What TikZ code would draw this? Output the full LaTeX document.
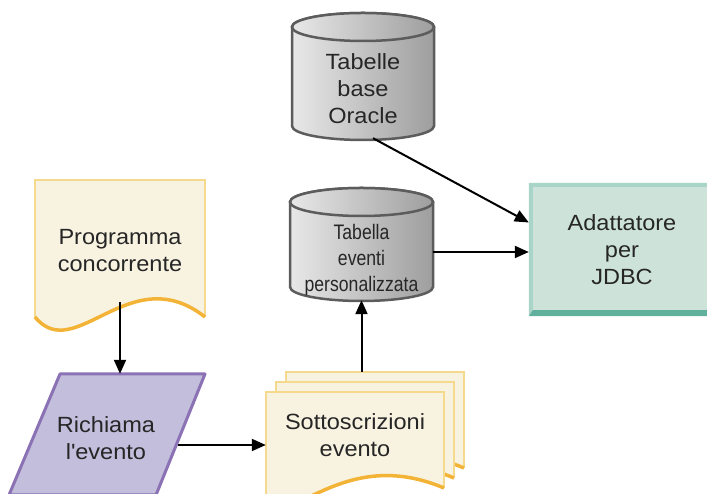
\documentclass[tikz,border=0pt]{standalone}
\usepackage{fontspec}
\setmainfont{Liberation Sans}[FakeStretch=1.07]
\newfontfamily\narrowfont{Liberation Sans}[FakeStretch=0.84]
\usetikzlibrary{arrows.meta}

\definecolor{cylleft}{HTML}{E8E8E8}
\definecolor{cylright}{HTML}{9E9E9E}
\definecolor{cyledge}{HTML}{5C5C5C}
\definecolor{adfill}{HTML}{CDE3DA}
\definecolor{adlight}{HTML}{A9D4C8}
\definecolor{addark}{HTML}{5FB09C}
\definecolor{docfill}{HTML}{F8F2E0}
\definecolor{docedge}{HTML}{F5D98C}
\definecolor{docwave}{HTML}{F2B336}
\definecolor{parfill}{HTML}{C2BEDC}
\definecolor{paredge}{HTML}{8B72B4}

\begin{document}
\begin{tikzpicture}[x=1pt,y=1pt,
	txt/.style={font=\fontsize{22}{27}\selectfont, align=center, inner sep=0pt, text=black!85},
	arr/.style={-{Triangle[length=14pt,width=12pt]}, line width=2pt},
	cyl/.style={left color=cylleft, right color=cylright, draw=cyledge, line width=2.5pt},
	]
		\clip (0,0) rectangle (707,494);
		% Draw tables
		\draw [cyl] (292,467) -- (292,368) arc [start angle=180, end angle=360, x radius=71, y radius=14] -- (434,467) arc [start angle=0, end angle=180, x radius=71, y radius=14] -- cycle;
		\draw [cyl] (363,467) ellipse [x radius=71, y radius=14];
		\node [txt, minimum width=142, minimum height=98] (oracle) at (363,405) {Tabelle\\base\\Oracle};
		
		\draw [cyl] (290,292) -- (290,207) arc [start angle=180, end angle=360, x radius=71.5, y radius=14] -- (433,292) arc [start angle=0, end angle=180, x radius=71.5, y radius=14] -- cycle;
		\draw [cyl] (361.5,292) ellipse [x radius=71.5, y radius=14];
		\node [txt, font=\narrowfont\fontsize{21}{26}\selectfont, minimum width=143, minimum height=80] (eventi) at (361.5,234) {Tabella\\eventi\\personalizzata};
		
		% Draw adapter
		\node [txt, fill=adfill, minimum width=186, minimum height=133] (adapter) at (622,244.5) {Adattatore\\per\\JDBC};
		\fill [adlight] (adapter.south west) -- (adapter.north west) -- (adapter.north east) -- ++(0,-4) -- ([shift={(4,-4)}]adapter.north west) -- ([shift={(4,6)}]adapter.south west) -- cycle;
		\fill [addark] (adapter.south west) -- (adapter.south east) -- ++(0,6) -- ([shift={(4,6)}]adapter.south west) -- cycle;
		
		% Draw program
		\fill [docfill] (35,177) -- (35,314) -- (205,314) -- (205,177) .. controls (130,236) and (75,128) .. (35,177);
		\draw [docedge, line width=2.5pt] (35,177) -- (35,314) -- (205,314) -- (205,177);
		\draw [docwave, line width=3.5pt] (35,177) .. controls (75,128) and (130,236) .. (205,177);
		\node [txt, minimum width=170, minimum height=102] (prog) at (120,243) {Programma\\concorrente};
		
		% Draw call
		\draw [fill=parfill, draw=paredge, line width=3pt, line join=round] (9,-1) -- (60,120) -- (205,120) -- (156,-1) -- cycle;
		\node [txt, minimum width=144, minimum height=128] (richiama) at (106,56) {Richiama\\l\textquotesingle evento};
		
		% Draw subscriptions
		\foreach \d in {20,10,0} {
			\begin{scope}[shift={(\d,\d)}]
				\fill [docfill] (266,-2) -- (266,102) -- (444,102) -- (444,6) .. controls (340,50) and (290,-40) .. (266,-2);
				\draw [docedge, line width=2.5pt] (266,-2) -- (266,102) -- (444,102) -- (444,6);
				\draw [docwave, line width=3.5pt] (266,-2) .. controls (290,-40) and (340,50) .. (444,6);
			\end{scope}
		}
		\node [txt, minimum width=178, minimum height=126] (sotto) at (355,59) {Sottoscrizioni\\evento};
		
		% Draw arrows
		\draw [arr] ([xshift=10pt]oracle.south) -- ([yshift=27pt]adapter.west);
		\draw [arr] ([yshift=8pt]eventi.east) -- ([yshift=8pt]eventi.east -| adapter.west);
		\draw [arr] (prog.south) -- (prog.south |- richiama.north);
		\draw [arr] ([yshift=-7pt]richiama.east) -- ([yshift=-7pt]richiama.east -| sotto.west);
		\draw [arr] (eventi.south |- sotto.north) -- (eventi.south);
	\end{tikzpicture}
\end{document}
